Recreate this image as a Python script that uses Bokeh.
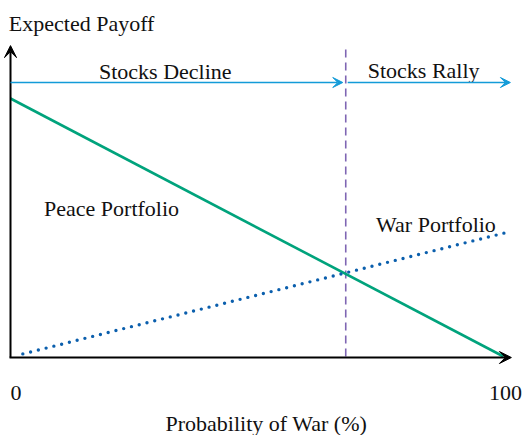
from bokeh.plotting import figure
from bokeh.models import Arrow, VeeHead, Range1d
from bokeh.core.properties import value
from bokeh.embed import file_html
from bokeh.resources import INLINE

# ---- data ----
prob = [0, 100]
peace_payoff = [100, 0]
war_prob = [2.5, 101.5]
war_payoff = [1, 48.5]
threshold = 68
tick_values = [0, 100]
tick_labels = ["0", "100"]
regime_labels = ["Stocks Decline", "Stocks Rally"]
series_labels = ["Peace Portfolio", "War Portfolio"]
x_title = "Probability of War (%)"
y_title = "Expected Payoff"

# ---- scales (px per unit) ----
SX = 4.93
SY = 2.58
W, H = 525, 435
X0, Y0 = 10, 356   # pixel position of the origin

p = figure(width=W, height=H, output_backend="svg", toolbar_location=None,
           x_range=Range1d(-X0 / SX, -X0 / SX + W / SX),
           y_range=Range1d(-(H - Y0) / SY, -(H - Y0) / SY + H / SY),
           min_border=0, min_border_left=0, min_border_right=0,
           min_border_top=0, min_border_bottom=0)
p.axis.visible = False
p.grid.visible = False
p.outline_line_color = None
p.background_fill_color = "white"
p.border_fill_color = "white"

FONT = value("Liberation Serif")
FS = "22px"

# axes with arrowheads
p.add_layout(Arrow(end=VeeHead(size=12, fill_color="black", line_color="black"),
                   x_start=0, y_start=-0.4, x_end=0, y_end=120.5,
                   line_color="black", line_width=2))
p.add_layout(Arrow(end=VeeHead(size=12, fill_color="black", line_color="black"),
                   x_start=-0.2, y_start=-0.4, x_end=101.6, y_end=-0.4,
                   line_color="black", line_width=2))

# threshold dashed line
p.line([threshold, threshold], [0, 119.8], line_color="#7f66b3",
       line_width=1.6, line_dash="8 5")

# regime arrows
ay = 106.2
p.add_layout(Arrow(end=VeeHead(size=10, fill_color="#139bd8", line_color="#139bd8"),
                   x_start=0, y_start=ay, x_end=threshold - 0.6, y_end=ay,
                   line_color="#139bd8", line_width=1.6))
p.add_layout(Arrow(end=VeeHead(size=10, fill_color="#139bd8", line_color="#139bd8"),
                   x_start=threshold + 0.4, y_start=ay, x_end=101.4, y_end=ay,
                   line_color="#139bd8", line_width=1.6))

# payoff lines
p.line(prob, peace_payoff, line_color="#00a37c", line_width=2.6)
p.line(war_prob, war_payoff, line_color="#0b5fad", line_width=3.4,
       line_dash="0 8", line_cap="round")

def label(x, y, txt, align="center"):
    p.text(x=[x], y=[y], text=[txt], text_font=FONT, text_font_size=FS,
           text_color="#111111", text_align=align, text_baseline="alphabetic")

label(-0.34, 129.1, y_title, "left")
label(31.4, 110.5, regime_labels[0])
label(83.8, 110.9, regime_labels[1])
label(20.5, 57.3, series_labels[0])
label(86.3, 51.2, series_labels[1])
label(tick_values[0], -14.3, tick_labels[0], "left")
label(tick_values[1] + 0.4, -14.3, tick_labels[1])
label(51.9, -26.0, x_title)

open("out.html", "w").write(file_html(p, INLINE))
